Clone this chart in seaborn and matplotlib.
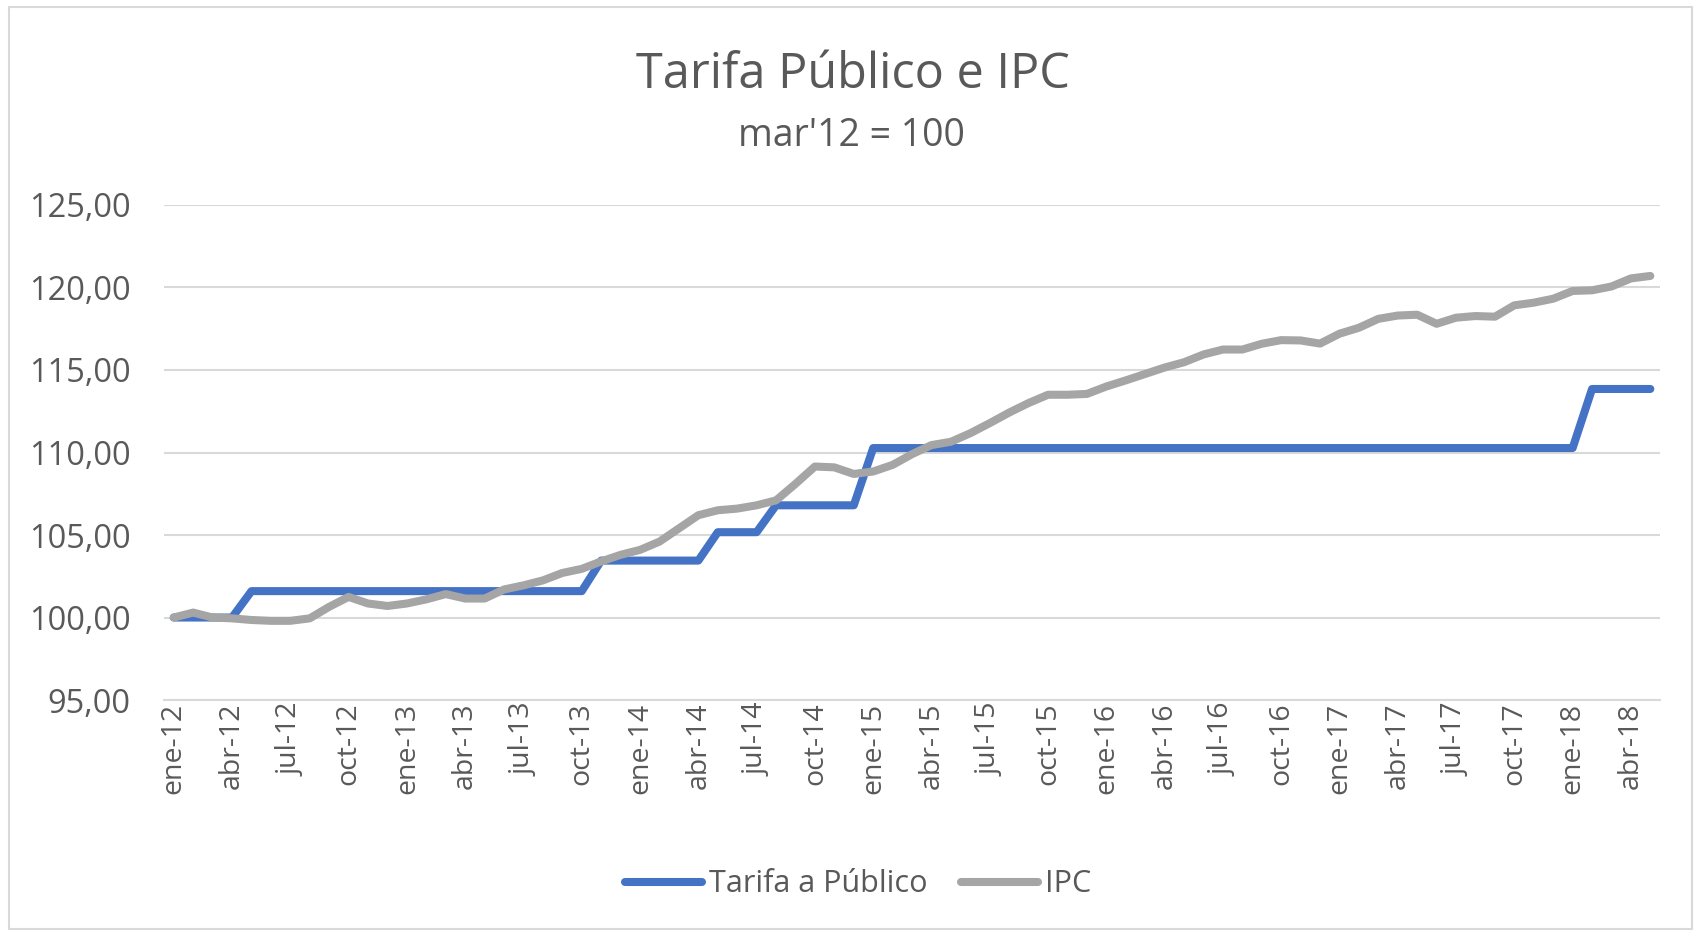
import numpy as np
import pandas as pd
import matplotlib.pyplot as plt
import seaborn as sns
from matplotlib.patches import Rectangle

# Datos mensuales ene-12 .. may-18 (mar'12 = 100)
meses = ["ene", "feb", "mar", "abr", "may", "jun", "jul", "ago", "sep", "oct", "nov", "dic"]
anios = ["12", "13", "14", "15", "16", "17", "18"]
periodos = [f"{m}-{a}" for a in anios for m in meses][:77]

tarifa = [
    100.00, 100.00, 100.00, 100.00, 101.60, 101.60, 101.60, 101.60, 101.60, 101.60, 101.60, 101.60,
    101.60, 101.60, 101.60, 101.60, 101.60, 101.60, 101.60, 101.60, 101.60, 101.60, 103.45, 103.45,
    103.45, 103.45, 103.45, 103.45, 105.17, 105.17, 105.17, 106.80, 106.80, 106.80, 106.80, 106.80,
    110.27, 110.27, 110.27, 110.27, 110.27, 110.27, 110.27, 110.27, 110.27, 110.27, 110.27, 110.27,
    110.27, 110.27, 110.27, 110.27, 110.27, 110.27, 110.27, 110.27, 110.27, 110.27, 110.27, 110.27,
    110.27, 110.27, 110.27, 110.27, 110.27, 110.27, 110.27, 110.27, 110.27, 110.27, 110.27, 110.27,
    110.27, 113.85, 113.85, 113.85, 113.85,
]

ipc = [
    100.00, 100.30, 100.00, 99.95, 99.85, 99.80, 99.80, 99.95, 100.65, 101.25, 100.85, 100.70,
    100.85, 101.10, 101.42, 101.15, 101.15, 101.70, 101.95, 102.25, 102.70, 102.95, 103.40, 103.80,
    104.10, 104.60, 105.40, 106.20, 106.50, 106.60, 106.80, 107.10, 108.10, 109.15, 109.10, 108.70,
    108.85, 109.25, 109.90, 110.45, 110.65, 111.17, 111.78, 112.42, 113.00, 113.50, 113.50, 113.55,
    114.00, 114.37, 114.76, 115.15, 115.47, 115.94, 116.24, 116.24, 116.59, 116.81, 116.79, 116.60,
    117.20, 117.56, 118.10, 118.30, 118.35, 117.80, 118.17, 118.27, 118.23, 118.92, 119.08, 119.32,
    119.79, 119.83, 120.06, 120.55, 120.70,
]

df = pd.DataFrame({"pos": np.arange(len(periodos)), "periodo": periodos,
                   "Tarifa a Público": tarifa, "IPC": ipc})

sns.set_style("white")
plt.rcParams["font.family"] = ["Open Sans", "DejaVu Sans"]

texto = "#595959"
grid_c = "#D9D9D9"
azul = "#4472C4"
gris = "#A5A5A5"

fig = plt.figure(figsize=(17, 9.33), dpi=100)
ax = fig.add_axes([0.0965, 0.2497, 0.88, 0.5306])

sns.lineplot(data=df, x="pos", y="Tarifa a Público", ax=ax, color=azul, lw=5.8,
             label="Tarifa a Público", solid_joinstyle="round", solid_capstyle="round")
sns.lineplot(data=df, x="pos", y="IPC", ax=ax, color=gris, lw=5.8,
             label="IPC", solid_joinstyle="round", solid_capstyle="round")

ax.set_xlim(-0.5, len(periodos) - 0.5)
ax.set_ylim(95, 125)
ax.set_yticks(np.arange(95, 126, 5))
ax.set_yticklabels([f"{v:.2f}".replace(".", ",") for v in np.arange(95, 126, 5)])
ax.yaxis.grid(True, color=grid_c, lw=1.5)
ax.set_axisbelow(True)

# etiquetas cada 3 meses en el centro de la categoría, marcas entre categorías
lab_pos = df["pos"][::3]
ax.set_xticks(lab_pos)
ax.set_xticklabels(df["periodo"][::3], rotation=90)
ax.set_xticks(lab_pos - 0.5, minor=True)
ax.tick_params(axis="x", which="major", length=0, pad=2, labelsize=20.5, labelcolor=texto)
ax.tick_params(axis="x", which="minor", length=9, width=1.5, color=grid_c, direction="out")
ax.tick_params(axis="y", length=0, pad=24, labelsize=23.5, labelcolor=texto)
ax.set_xlabel("")
ax.set_ylabel("")

for s in ["top", "right", "left"]:
    ax.spines[s].set_visible(False)
ax.spines["bottom"].set_color(grid_c)
ax.spines["bottom"].set_linewidth(1.5)

fig.text(0.502, 0.919, "Tarifa Público e IPC", ha="center", va="center",
         fontsize=35, color=texto)
fig.text(0.501, 0.854, "mar'12 = 100", ha="center", va="center",
         fontsize=27, color=texto)

leg = ax.legend(loc="center", bbox_to_anchor=(0.505, 0.052), bbox_transform=fig.transFigure,
                ncol=2, frameon=False, fontsize=22, handlelength=2.5, handletextpad=0.25,
                columnspacing=1.1, labelcolor=texto)

fig.patches.append(Rectangle((0.005, 0.004), 0.99, 0.988, transform=fig.transFigure,
                             fill=False, edgecolor=grid_c, lw=1.5))

fig.savefig("out.png", dpi=100, facecolor="white")
